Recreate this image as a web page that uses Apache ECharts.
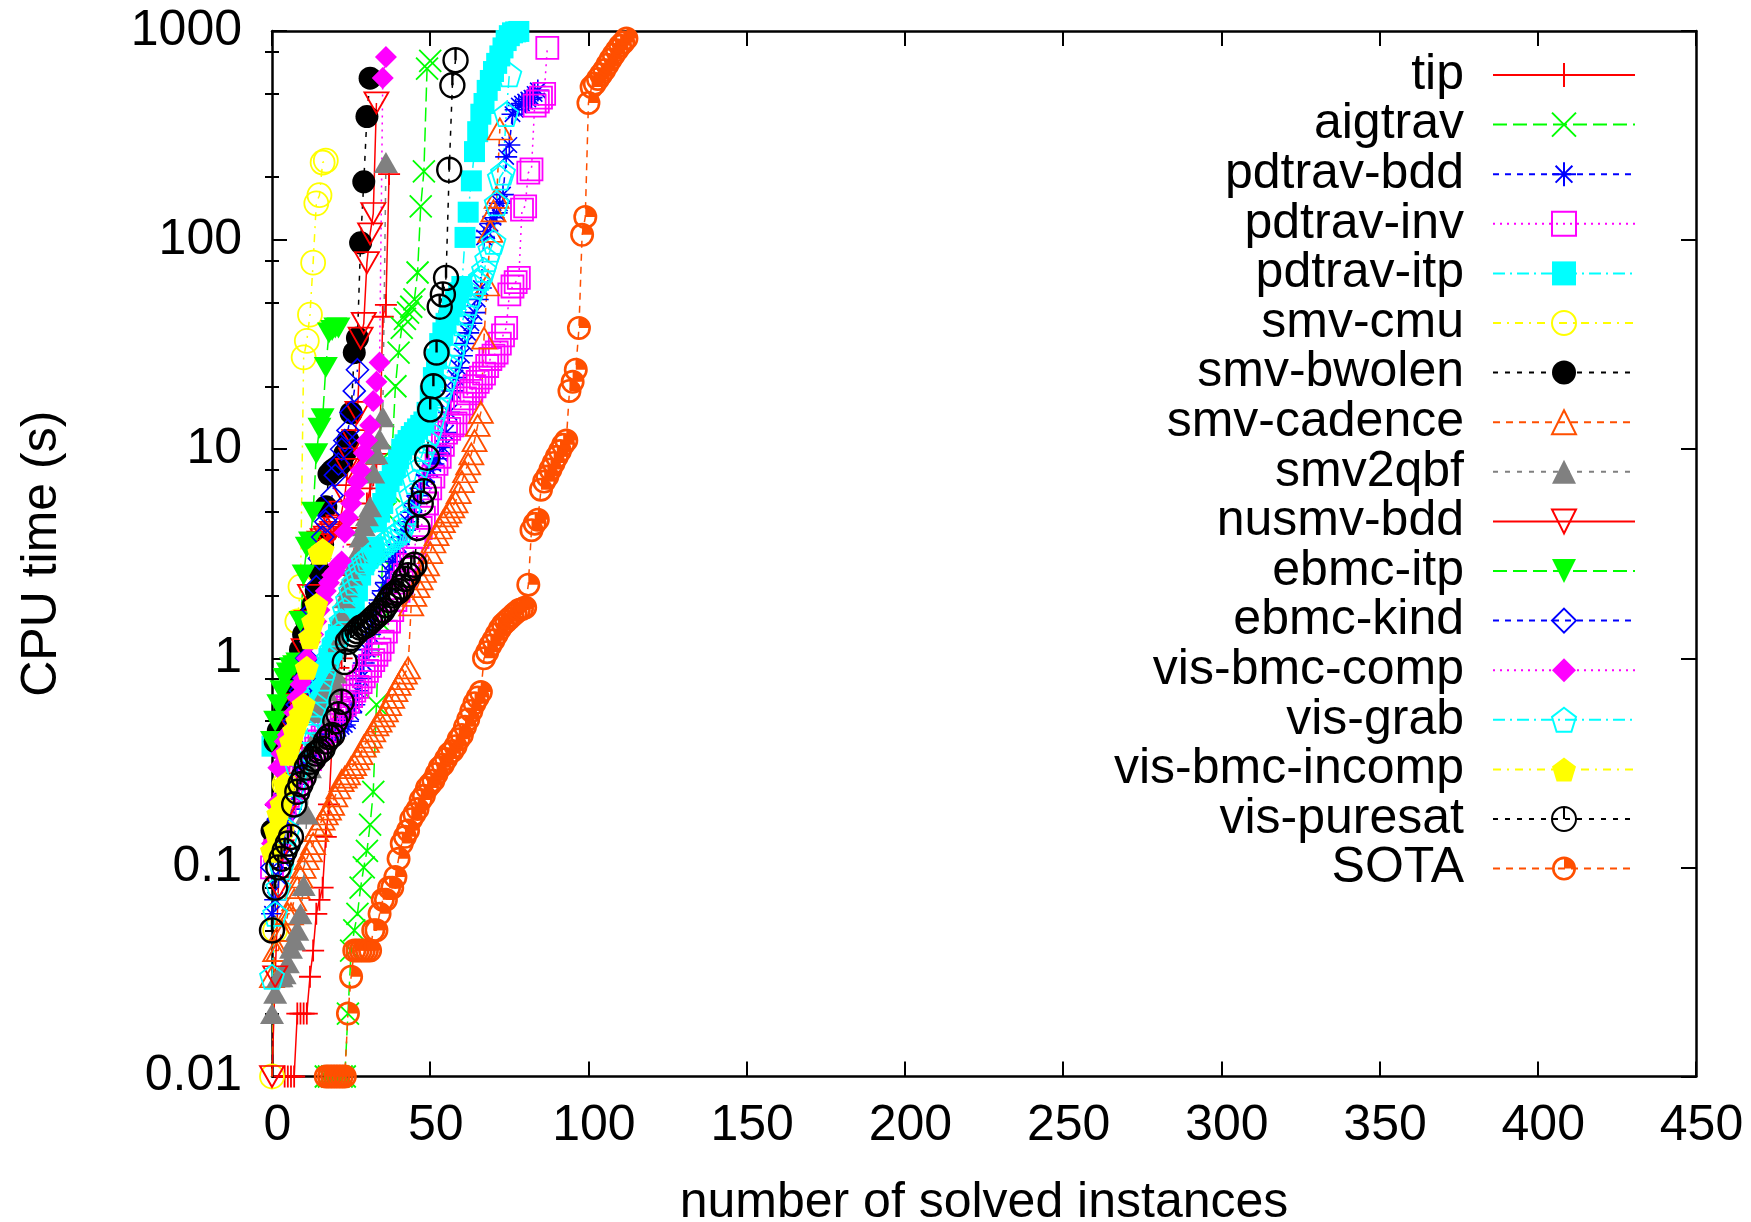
<!DOCTYPE html>
<html><head><meta charset="utf-8">
<script src="https://cdn.jsdelivr.net/npm/echarts@6/dist/echarts.min.js"></script>
<style>html,body{margin:0;padding:0;background:#fff}#c{width:1751px;height:1222px}</style>
</head><body><div id="c"></div>
<script>
// ---------- data (y = CPU time, x = start index + position) ----------
const xTicks = [0, 50, 100, 150, 200, 250, 300, 350, 400, 450];
const yTickLabels = ['0.01', '0.1', '1', '10', '100', '1000'];
const yMinorTicks = [0.02,0.05,0.08,0.2,0.5,0.8,2,5,8,20,50,80,200,500,800];

const tipStart = 4;
const tip = [0.01,0.01,0.01,0.01,0.02,0.02,0.02,0.02,0.03,0.04,0.06,0.07,0.08,0.14,0.2,0.4,0.8,0.9,1.0,1.5,2,2.5,3,3.5,4.2,4.6,5.5,6.5,7.5,8.5,9.5,43,49,207];
const aigtravStart = 17;
const aigtrav = [0.01,0.01,0.01,0.01,0.01,0.01,0.01,0.02,0.04,0.05,0.06,0.08,0.1,0.12,0.16,0.23,0.6,1.5,3,5,6.3,10,20,29,38,42,45,48,52,70,145,213,660,720];
const pdtravBddStart = 0;
const pdtravBdd = [0.06,0.07,0.09,0.11,0.13,0.16,0.19,0.22,0.25,0.28,0.3,0.32,0.34,0.36,0.38,0.4,0.41,0.42,0.43,0.44,0.45,0.46,0.47,0.48,0.5,0.55,0.6,0.7,0.8,0.95,1.1,1.3,1.5,1.7,1.9,2.1,2.3,2.6,2.9,3.2,3.5,3.8,4.1,4.5,5.0,5.5,6.0,6.5,7.0,7.5,8,8.5,9,9.5,10.2,12,15,19,22,24.5,28,32,36,40,45,52,59,103,110,120,128,135,150,165,250,285,400,420,440,450,460,470,480,500,520];
const pdtravInvStart = 0;
const pdtravInv = [0.1,0.12,0.14,0.17,0.2,0.22,0.23,0.24,0.25,0.27,0.29,0.31,0.33,0.35,0.37,0.4,0.42,0.45,0.48,0.5,0.53,0.56,0.58,0.6,0.62,0.66,0.7,0.73,0.77,0.82,0.87,0.92,0.98,1.04,1.1,1.2,1.34,1.5,1.7,1.9,2.1,2.3,2.5,2.8,3.0,3.4,3.8,4.2,4.7,5.5,6.5,7.4,8.5,9.2,10.5,12,12.5,13,13.3,15,16.5,17.5,18.5,19,20,21,22,23,25,27,28,29,32,35,38,55,60,63,66,140,145,210,218,440,460,480,500,830];
const pdtravItpStart = 0;
const pdtravItp = [0.38,0.4,0.42,0.45,0.48,0.5,0.52,0.55,0.58,0.6,0.63,0.66,0.7,0.73,0.76,0.8,0.85,0.9,1.0,1.1,1.2,1.3,1.4,1.5,1.6,1.7,1.9,2.1,2.5,2.8,3.0,3.2,3.4,4.5,5,5.5,6.2,7,7.5,8.2,9,10,10.5,11,11.5,12,12.5,13,13.5,15,18,22,27,32,36,40,44,48,52,56,60,103,136,192,265,330,400,450,520,580,640,700,760,830,900,950,980,990,995];
const smvCmuStart = 0;
const smvCmu = [0.01,0.05,0.1,0.15,0.25,0.4,0.6,0.93,1.5,2.2,27.5,33,44,78,150,164,235,240];
const smvBwolenStart = 0;
const smvBwolen = [0.15,0.4,0.45,0.5,0.55,0.6,0.65,0.75,0.9,1.1,1.3,1.5,1.6,1.8,2.1,2.6,3.5,5.3,7.6,7.9,8.1,8.3,8.6,9.5,11,14.9,29,34,97,190,390,595];
const smvCadenceStart = 0;
const smvCadence = [0.03,0.04,0.04,0.05,0.05,0.06,0.06,0.07,0.08,0.09,0.1,0.11,0.12,0.13,0.15,0.16,0.17,0.18,0.19,0.2,0.22,0.24,0.26,0.27,0.28,0.3,0.31,0.33,0.35,0.38,0.4,0.42,0.45,0.48,0.5,0.53,0.56,0.6,0.65,0.7,0.75,0.8,0.85,0.9,1.8,2.0,2.2,2.4,2.6,2.8,3.2,3.6,3.9,4.2,4.5,4.8,5.0,5.3,5.6,6.2,7.0,7.8,8.5,9.5,11,13,15,34,61,110,138,160,340];
const smv2qbfStart = 0;
const smv2qbf = [0.02,0.025,0.03,0.03,0.031,0.035,0.041,0.045,0.05,0.06,0.082,0.18,0.3,0.4,0.55,0.6,0.65,0.7,0.75,0.8,0.85,1.2,1.6,1.95,2.2,2.5,2.8,3.2,3.8,4.3,4.8,5.3,7.7,9.5,11.2,14.3,235];
const nusmvBddStart = 0;
const nusmvBdd = [0.01,0.03,0.08,0.12,0.18,0.25,0.35,0.45,0.6,0.8,1.1,1.5,2.0,3.3,3.5,3.6,3.7,3.8,3.9,4.0,4.2,4.3,5,6,8,9,11,15,34,40,78,107,134,453];
const ebmcItpStart = 0;
const ebmcItp = [0.4,0.5,0.6,0.7,0.8,0.85,0.9,0.92,0.95,1.5,2.5,3.4,3.6,5,9.5,12.6,14,24.6,36,37,38,38];
const ebmcKindStart = 0;
const ebmcKind = [0.1,0.13,0.17,0.2,0.22,0.3,0.4,0.5,0.6,0.7,0.8,1.0,1.3,1.7,2.2,3,3.8,4.5,4.8,6,7.5,8.5,10,11,12.3,15,19,24];
const visBmcCompStart = 0;
const visBmcComp = [0.13,0.2,0.3,0.35,0.4,0.43,0.45,0.55,0.65,0.75,0.8,1.0,1.2,1.3,1.5,1.7,1.9,2.1,2.3,2.5,2.6,2.8,2.9,4,4.7,5.5,6.1,7,7.9,9.6,11,13,17,21,26,596,751];
const visGrabStart = 0;
const visGrab = [0.03,0.06,0.08,0.1,0.12,0.15,0.2,0.25,0.3,0.35,0.4,0.45,0.5,0.55,0.6,0.7,0.8,0.9,1.0,1.1,1.2,1.3,1.5,1.7,1.9,2.1,2.3,2.5,2.7,2.9,3.0,3.1,3.2,3.3,3.4,3.5,3.6,3.7,3.8,3.9,4.0,4.1,4.5,5,6,7,8,9,10,11,12,14,16,18,20,22,25,28,32,36,40,45,50,55,60,63,66,72,81,90,98,150,199,210,400,620];
const visBmcIncompStart = 0;
const visBmcIncomp = [0.12,0.15,0.18,0.2,0.25,0.35,0.4,0.45,0.5,0.54,0.6,0.9,1.26,1.5,1.8,3.2,3.3];
const visPuresatStart = 0;
const visPuresat = [0.05,0.08,0.1,0.11,0.12,0.13,0.14,0.2,0.23,0.25,0.27,0.3,0.32,0.33,0.35,0.36,0.37,0.4,0.42,0.43,0.5,0.54,0.62,0.96,1.2,1.25,1.3,1.35,1.4,1.42,1.45,1.5,1.55,1.6,1.65,1.7,1.8,1.9,2.0,2.05,2.1,2.2,2.4,2.5,2.7,2.8,4.2,5.5,6.3,9.1,15.5,20,29,48,55,66,217,550,725];
const sotaStart = 17;
const sota = [0.01,0.01,0.01,0.01,0.01,0.01,0.01,0.02,0.03,0.04,0.04,0.04,0.04,0.04,0.04,0.05,0.05,0.06,0.07,0.07,0.08,0.08,0.09,0.11,0.13,0.14,0.15,0.17,0.18,0.19,0.21,0.22,0.24,0.25,0.26,0.28,0.30,0.31,0.33,0.35,0.36,0.38,0.41,0.43,0.47,0.51,0.56,0.61,0.65,0.69,1.0,1.07,1.15,1.22,1.3,1.38,1.45,1.5,1.55,1.6,1.65,1.7,1.72,1.75,2.25,4.1,4.4,4.6,6.4,7.0,7.4,8.0,8.6,9.2,9.8,10.5,11,19,21,24,38,106,129,453,540,560,590,620,650,690,730,770,810,850,880,920];

// ---------- styles ----------
const FONT = '"Liberation Sans", Arial, Helvetica, sans-serif';
const P_PLUS = 'path://M0,5L10,5M5,0L5,10';
const P_CROSS = 'path://M0,0L10,10M10,0L0,10';
const P_STAR = 'path://M0,5L10,5M5,0L5,10M1.5,1.5L8.5,8.5M8.5,1.5L1.5,8.5';
const P_PENT = 'path://M5,0L10,3.63L8.09,9.51L1.91,9.51L0,3.63Z';
const P_PURE = 'path://M0,5A5,5,0,1,1,10,5A5,5,0,1,1,0,5ZM5,0L5,5';
const P_SOTA = 'path://M0,5A5,5,0,1,1,10,5A5,5,0,1,1,0,5ZM1.1,5A3.9,3.9,0,1,0,8.9,5A3.9,3.9,0,1,0,1.1,5ZM5,5L5,1.1A3.9,3.9,0,0,1,8.9,5Z';

const RED='#ff0000', GREEN='#00ff00', BLUE='#0000ff', MAG='#ff00ff', CYAN='#00ffff',
      YEL='#ffff00', BLK='#000000', ORG='#ff4f00', GRAY='#808080';
const D_LONG=[14,6], D_SHORT=[6,6], D_DOT=[2,5], D_DASHDOT=[12,5,2,5], D_DDOT=[8,6,2,6], D_DASH=[5,7], D_MED=[7,6];

const seriesDefs = [
  {name:'tip', start:tipStart, vals:tip, color:RED, dash:'solid', symbol:P_PLUS, size:22, fill:true, bw:1.8},
  {name:'aigtrav', start:aigtravStart, vals:aigtrav, color:GREEN, dash:D_LONG, symbol:P_CROSS, size:22, fill:true, bw:1.8},
  {name:'pdtrav-bdd', start:pdtravBddStart, vals:pdtravBdd, color:BLUE, dash:D_SHORT, symbol:P_STAR, size:22, fill:true, bw:1.6},
  {name:'pdtrav-inv', start:pdtravInvStart, vals:pdtravInv, color:MAG, dash:D_DOT, symbol:'rect', size:22, fill:false, bw:1.8},
  {name:'pdtrav-itp', start:pdtravItpStart, vals:pdtravItp, color:CYAN, dash:D_DASHDOT, symbol:'rect', size:21, fill:true, bw:0},
  {name:'smv-cmu', start:smvCmuStart, vals:smvCmu, color:YEL, dash:D_DDOT, symbol:'circle', size:24, fill:false, bw:1.8},
  {name:'smv-bwolen', start:smvBwolenStart, vals:smvBwolen, color:BLK, dash:D_DASH, symbol:'circle', size:23, fill:true, bw:0},
  {name:'smv-cadence', start:smvCadenceStart, vals:smvCadence, color:ORG, dash:D_MED, symbol:'triangle', size:[24,21], fill:false, bw:1.8},
  {name:'smv2qbf', start:smv2qbfStart, vals:smv2qbf, color:GRAY, dash:D_DASH, symbol:'triangle', size:[24,21], fill:true, bw:0},
  {name:'nusmv-bdd', start:nusmvBddStart, vals:nusmvBdd, color:RED, dash:'solid', symbol:'triangle', rotate:180, size:[24,21], fill:false, bw:1.8},
  {name:'ebmc-itp', start:ebmcItpStart, vals:ebmcItp, color:GREEN, dash:D_LONG, symbol:'triangle', rotate:180, size:[24,21], fill:true, bw:0},
  {name:'ebmc-kind', start:ebmcKindStart, vals:ebmcKind, color:BLUE, dash:D_SHORT, symbol:'diamond', size:22, fill:false, bw:1.6},
  {name:'vis-bmc-comp', start:visBmcCompStart, vals:visBmcComp, color:MAG, dash:D_DOT, symbol:'diamond', size:22, fill:true, bw:0},
  {name:'vis-grab', start:visGrabStart, vals:visGrab, color:CYAN, dash:D_DASHDOT, symbol:P_PENT, size:24, fill:false, bw:1.8},
  {name:'vis-bmc-incomp', start:visBmcIncompStart, vals:visBmcIncomp, color:YEL, dash:D_DDOT, symbol:P_PENT, size:24, fill:true, bw:0},
  {name:'vis-puresat', start:visPuresatStart, vals:visPuresat, color:BLK, dash:D_DASH, symbol:P_PURE, size:24, fill:false, bw:2.4},
  {name:'SOTA', start:sotaStart, vals:sota, color:ORG, dash:D_MED, symbol:P_SOTA, size:24, fill:true, bw:0}
];

const series = seriesDefs.map(d => ({
  name: d.name, type: 'line', xAxisIndex: 0, yAxisIndex: 0,
  data: d.vals.map((v, i) => [d.start + i, v]),
  symbol: d.symbol, symbolSize: d.size, symbolRotate: d.rotate || 0, symbolKeepAspect: false,
  clip: false, silent: true, animation: false,
  lineStyle: {color: d.color, width: 1.5, type: d.dash},
  itemStyle: {color: d.fill ? d.color : 'rgba(0,0,0,0)', borderColor: d.color, borderWidth: d.bw},
  emphasis: {disabled: true}
}));

const tickLine = {color: '#000', width: 2};
const axisLine = {show: true, onZero: false, lineStyle: {color: '#000', width: 2.5}};
const labelStyle = {color: '#000', fontSize: 50, fontFamily: FONT};

const xBase = {type: 'value', min: xTicks[0], max: xTicks[xTicks.length - 1], interval: xTicks[1] - xTicks[0],
  splitLine: {show: false}, axisLine: axisLine, axisTick: {inside: true, length: 15, lineStyle: tickLine}};
const yBase = {type: 'log', logBase: 10, min: 0.01, max: 1000, splitLine: {show: false},
  axisLine: axisLine, axisTick: {inside: true, length: 15, lineStyle: tickLine}};
const yMinor = {inside: true, length: 7, lineStyle: tickLine, customValues: yMinorTicks};

const option = {
  animation: false,
  backgroundColor: '#fff',
  grid: {left: 272, right: 55, top: 31, bottom: 145.5, containLabel: false, outerBoundsMode: 'none'},
  xAxis: [
    Object.assign({}, xBase, {position: 'bottom',
      axisLabel: Object.assign({margin: 25, padding: [0, 0, 0, 11]}, labelStyle),
      name: 'number of solved instances', nameLocation: 'middle', nameGap: 102,
      nameTextStyle: labelStyle}),
    Object.assign({}, xBase, {position: 'top', axisLabel: {show: false}})
  ],
  yAxis: [
    Object.assign({}, yBase, {position: 'left',
      axisLabel: Object.assign({margin: 30, formatter: v => yTickLabels[Math.round(Math.log10(v)) + 2]}, labelStyle),
      name: 'CPU time (s)', nameLocation: 'middle', nameGap: 205, nameRotate: 90,
      nameTextStyle: labelStyle}),
    Object.assign({}, yBase, {position: 'left', axisLine: {show: false}, axisLabel: {show: false}, axisTick: yMinor}),
    Object.assign({}, yBase, {position: 'right', axisLabel: {show: false}}),
    Object.assign({}, yBase, {position: 'right', axisLine: {show: false}, axisLabel: {show: false}, axisTick: yMinor})
  ],
  legend: {
    orient: 'vertical', right: 115, top: 50, padding: 0, itemGap: -0.4,
    itemWidth: 142, itemHeight: 30, align: 'right', selectedMode: false,
    textStyle: {color: '#000', fontSize: 50, fontFamily: FONT, lineHeight: 49.6, padding: [0, 24, 0, 0]},
    data: seriesDefs.map(d => d.name)
  },
  series: series
};

const chart = echarts.init(document.getElementById('c'), null, {renderer: 'canvas'});
chart.setOption(option);
</script>
</body></html>
